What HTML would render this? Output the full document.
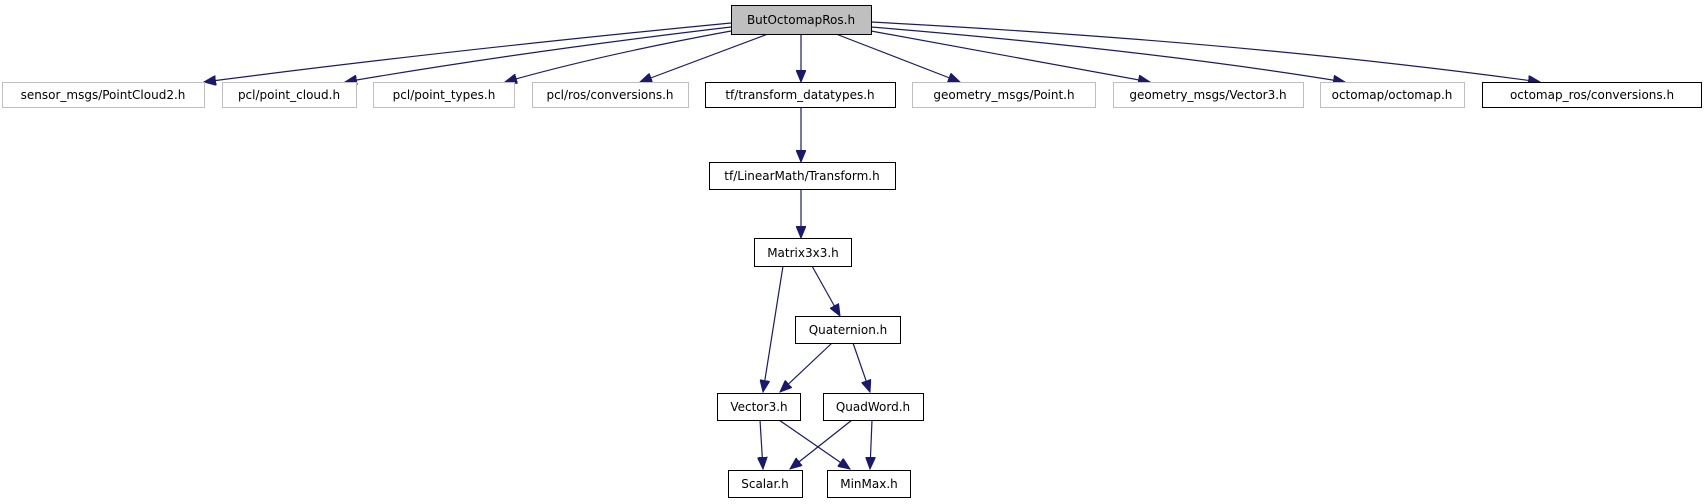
<!DOCTYPE html>
<html><head><meta charset="utf-8"><style>
html,body{margin:0;padding:0;background:#fff;}
svg{display:block;}
text{font-family:"DejaVu Sans","Liberation Sans",sans-serif;font-size:12px;fill:#000;}
</style></head><body>
<svg width="1707" height="504" viewBox="0 0 1707 504" xmlns="http://www.w3.org/2000/svg">
<defs>
<marker id="a" markerWidth="13" markerHeight="10" refX="12" refY="5" orient="auto" markerUnits="userSpaceOnUse">
<path d="M0,0 L12,5 L0,10 Z" fill="#191970" stroke="#191970"/>
</marker>
</defs>
<g stroke="#191970" stroke-width="1.2" fill="none" marker-end="url(#a)">
<path d="M731,23 Q450,50 204,82"/>
<path d="M731,27 Q520,52 345,82"/>
<path d="M731,31 Q600,55 505,82"/>
<path d="M768,34 L640,82"/>
<path d="M801,34 L801,82"/>
<path d="M836,34 L960,82"/>
<path d="M871,31 L1150,82"/>
<path d="M871,27 Q1150,50 1345,82"/>
<path d="M871,22 Q1250,42 1540,82"/>
<path d="M801,107 L801,162"/>
<path d="M801,189 L801,238"/>
<path d="M783,266 L763,392"/>
<path d="M812,266 L840,316"/>
<path d="M832,343 L780,392"/>
<path d="M853,343 L870,392"/>
<path d="M760,420 L763,469"/>
<path d="M779,420 L850,469"/>
<path d="M852,420 L790,469"/>
<path d="M872,420 L870,469"/>
</g>
<g stroke-width="1" fill="#fff">
<rect x="731.5" y="5.5" width="140" height="29" fill="#bfbfbf" stroke="#000"/>
<rect x="2.5" y="82.5" width="202" height="25" stroke="#bfbfbf"/>
<rect x="222.5" y="82.5" width="134" height="25" stroke="#bfbfbf"/>
<rect x="373.5" y="82.5" width="141" height="25" stroke="#bfbfbf"/>
<rect x="532.5" y="82.5" width="156" height="25" stroke="#bfbfbf"/>
<rect x="705.5" y="82.5" width="190" height="25" stroke="#000"/>
<rect x="912.5" y="82.5" width="183" height="25" stroke="#bfbfbf"/>
<rect x="1113.5" y="82.5" width="190" height="25" stroke="#bfbfbf"/>
<rect x="1320.5" y="82.5" width="144" height="25" stroke="#bfbfbf"/>
<rect x="1482.5" y="82.5" width="219" height="25" stroke="#000"/>
<rect x="709.5" y="162.5" width="186" height="27" stroke="#000"/>
<rect x="754.5" y="238.5" width="97" height="28" stroke="#000"/>
<rect x="795.5" y="316.5" width="105" height="27" stroke="#000"/>
<rect x="717.5" y="393.5" width="83" height="27" stroke="#000"/>
<rect x="823.5" y="393.5" width="100" height="27" stroke="#000"/>
<rect x="728.5" y="470.5" width="74" height="27" stroke="#000"/>
<rect x="827.5" y="470.5" width="83" height="27" stroke="#000"/>
</g>
<g text-anchor="middle">
<text x="801" y="24">ButOctomapRos.h</text>
<text x="103" y="99">sensor_msgs/PointCloud2.h</text>
<text x="289" y="99">pcl/point_cloud.h</text>
<text x="444" y="99">pcl/point_types.h</text>
<text x="610" y="99">pcl/ros/conversions.h</text>
<text x="800" y="99">tf/transform_datatypes.h</text>
<text x="1004" y="99">geometry_msgs/Point.h</text>
<text x="1208" y="99">geometry_msgs/Vector3.h</text>
<text x="1392" y="99">octomap/octomap.h</text>
<text x="1592" y="99">octomap_ros/conversions.h</text>
<text x="802" y="180">tf/LinearMath/Transform.h</text>
<text x="803" y="257">Matrix3x3.h</text>
<text x="848" y="334">Quaternion.h</text>
<text x="759" y="411">Vector3.h</text>
<text x="873" y="411">QuadWord.h</text>
<text x="765" y="488">Scalar.h</text>
<text x="869" y="488">MinMax.h</text>
</g>
</svg>
</body></html>
